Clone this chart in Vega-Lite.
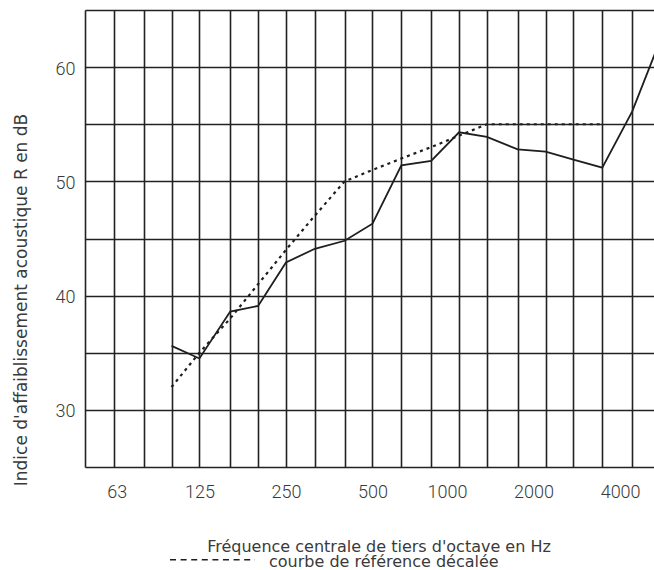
{
  "$schema": "https://vega.github.io/schema/vega-lite/v6.json",
  "width": 569,
  "height": 457,
  "autosize": "none",
  "padding": {"left": 85, "top": 10, "right": 0, "bottom": 103},
  "background": "white",
  "config": {"view": {"stroke": null}},
  "data": {
    "values": [
      {"freq": 100, "R": 35.6, "courbe": "mesurée"},
      {"freq": 125, "R": 34.5, "courbe": "mesurée"},
      {"freq": 160, "R": 38.6, "courbe": "mesurée"},
      {"freq": 200, "R": 39.1, "courbe": "mesurée"},
      {"freq": 250, "R": 42.9, "courbe": "mesurée"},
      {"freq": 315, "R": 44.1, "courbe": "mesurée"},
      {"freq": 400, "R": 44.8, "courbe": "mesurée"},
      {"freq": 500, "R": 46.3, "courbe": "mesurée"},
      {"freq": 630, "R": 51.4, "courbe": "mesurée"},
      {"freq": 800, "R": 51.8, "courbe": "mesurée"},
      {"freq": 1000, "R": 54.3, "courbe": "mesurée"},
      {"freq": 1250, "R": 53.9, "courbe": "mesurée"},
      {"freq": 1600, "R": 52.8, "courbe": "mesurée"},
      {"freq": 2000, "R": 52.6, "courbe": "mesurée"},
      {"freq": 2500, "R": 51.9, "courbe": "mesurée"},
      {"freq": 3150, "R": 51.2, "courbe": "mesurée"},
      {"freq": 4000, "R": 56.1, "courbe": "mesurée"},
      {"freq": 5000, "R": 62.3, "courbe": "mesurée"},
      {"freq": 100, "R": 32, "courbe": "référence"},
      {"freq": 125, "R": 35, "courbe": "référence"},
      {"freq": 160, "R": 38, "courbe": "référence"},
      {"freq": 200, "R": 41, "courbe": "référence"},
      {"freq": 250, "R": 44, "courbe": "référence"},
      {"freq": 315, "R": 47, "courbe": "référence"},
      {"freq": 400, "R": 50, "courbe": "référence"},
      {"freq": 500, "R": 51, "courbe": "référence"},
      {"freq": 630, "R": 52, "courbe": "référence"},
      {"freq": 800, "R": 53, "courbe": "référence"},
      {"freq": 1000, "R": 54, "courbe": "référence"},
      {"freq": 1250, "R": 55, "courbe": "référence"},
      {"freq": 1600, "R": 55, "courbe": "référence"},
      {"freq": 2000, "R": 55, "courbe": "référence"},
      {"freq": 2500, "R": 55, "courbe": "référence"},
      {"freq": 3150, "R": 55, "courbe": "référence"}
    ]
  },
  "encoding": {
    "x": {
      "field": "freq",
      "type": "quantitative",
      "scale": {"type": "log", "domain": [50, 4766], "nice": false},
      "axis": {
        "values": [50, 63, 80, 100, 125, 160, 200, 250, 315, 400, 500, 630, 800, 1000, 1250, 1600, 2000, 2500, 3150, 4000],
        "grid": true,
        "gridColor": "#222222",
        "gridWidth": 1.6,
        "gridOpacity": 1,
        "domain": false,
        "ticks": false,
        "tickSize": 0,
        "labelExpr": "indexof([63,125,250,500,1000,2000,4000], datum.value) >= 0 ? datum.value + '' : ''",
        "labelFont": "Roboto",
        "labelFontSize": 18,
        "labelFontWeight": 300,
        "labelColor": "#3a3a3a",
        "labelPadding": 16,
        "labelOffset": {"condition": [{"test": "datum.value >= 1000", "value": -12}, {"test": "datum.value == 63", "value": 3}], "value": 0},
        "labelFlush": false,
        "labelOverlap": false,
        "labelBound": false,
        "title": "Fréquence centrale de tiers d'octave en Hz",
        "titleFont": "DejaVu Sans",
        "titleFontSize": 16,
        "titleFontWeight": "normal",
        "titleColor": "#3a3a3a",
        "titleX": 293.5,
        "titleY": 84,
        "titleBaseline": "alphabetic",
        "titleAlign": "center"
      }
    },
    "y": {
      "field": "R",
      "type": "quantitative",
      "scale": {"domain": [25, 65], "nice": false, "zero": false},
      "axis": {
        "values": [25, 30, 35, 40, 45, 50, 55, 60, 65],
        "grid": true,
        "gridColor": "#222222",
        "gridWidth": 1.6,
        "gridOpacity": 1,
        "domain": false,
        "ticks": false,
        "tickSize": 0,
        "labelExpr": "datum.value % 10 == 0 ? datum.value + '' : ''",
        "labelFont": "Roboto",
        "labelFontSize": 18,
        "labelFontWeight": 300,
        "labelColor": "#3a3a3a",
        "labelPadding": 10,
        "labelOffset": 2,
        "labelOverlap": false,
        "labelBound": false,
        "title": "Indice d'affaiblissement acoustique R en dB",
        "titleFont": "DejaVu Sans",
        "titleFontSize": 17,
        "titleFontWeight": "normal",
        "titleColor": "#3a3a3a",
        "titleAngle": -90,
        "titleX": -58.5,
        "titleY": 289.5,
        "titleBaseline": "alphabetic",
        "titleAlign": "center"
      }
    }
  },
  "layer": [
    {
      "transform": [{"filter": "datum.courbe == 'mesurée'"}],
      "mark": {"type": "line", "clip": true, "color": "#1e1e1e", "strokeWidth": 1.8}
    },
    {
      "transform": [{"filter": "datum.courbe == 'référence'"}],
      "mark": {"type": "line", "clip": true, "strokeDash": [3, 4], "strokeWidth": 2.2},
      "encoding": {
        "color": {
          "datum": "courbe de référence décalée",
          "scale": {"range": ["#1e1e1e"]},
          "legend": {
            "title": null,
            "orient": "none",
            "legendX": 84,
            "legendY": 508,
            "symbolType": "M-1,-0.04L1,-0.04",
            "symbolSize": 7225,
            "symbolDash": [6, 4.6],
            "symbolStrokeWidth": 1.4,
            "labelFont": "DejaVu Sans",
            "labelFontSize": 16,
            "labelColor": "#3a3a3a",
            "labelOffset": 13,
            "labelLimit": 0,
            "padding": 0
          }
        }
      }
    }
  ]
}
